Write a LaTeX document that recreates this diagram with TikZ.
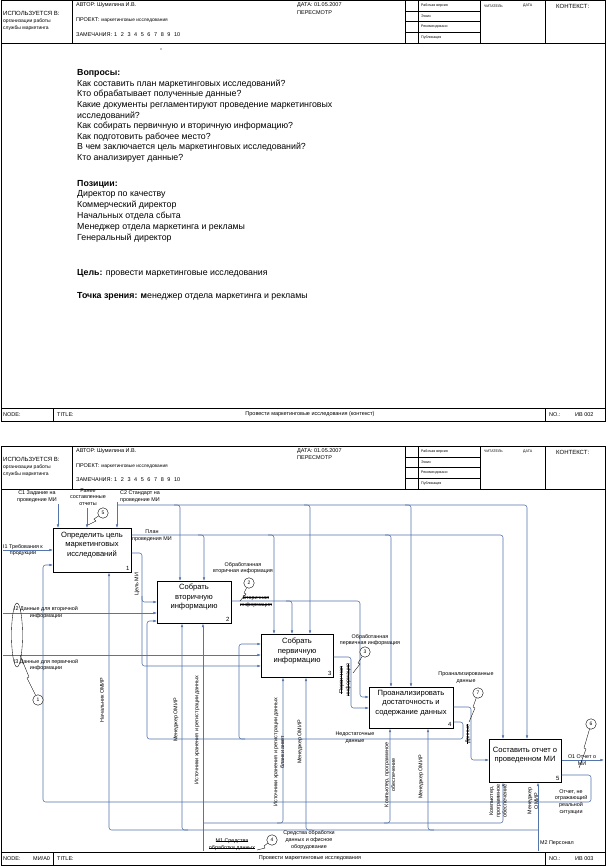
\documentclass[tikz,border=0pt]{standalone}
\usepackage{fontspec}
\setmainfont{Liberation Sans}
\usetikzlibrary{arrows.meta}
\definecolor{wl}{RGB}{84,116,172}
\newcommand\fsz[2]{\fontsize{#1}{#2}\selectfont}
\newsavebox\strkbox
\newcommand\strk[1]{\sbox\strkbox{#1}\rlap{\rule[0.3em]{\wd\strkbox}{0.35pt}}\usebox\strkbox}
\tikzset{
  frm/.style={draw=black, line width=0.5pt},
  hd/.style={anchor=west, inner sep=0pt, font=\fsz{5.5}{6.5}},
  hs/.style={anchor=west, inner sep=0pt, font=\fsz{3.6}{4}},
  bx/.style={draw=black, line width=0.6pt, anchor=north west, inner sep=0pt},
  bt/.style={align=center, font=\fsz{7.6}{9.2}, inner sep=0pt},
  bn/.style={anchor=south east, font=\fsz{6}{6}, inner sep=2pt},
  lb/.style={align=center, font=\fsz{5.4}{6.8}, inner sep=0pt},
  lbr/.style={lb, rotate=90},
  wire/.style={draw=wl, line width=0.55pt, rounded corners=2.5pt},
  warr/.style={wire, -{Latex[length=3.6pt,width=2.6pt]}},
  cl/.style={circle, draw=black, line width=0.4pt, minimum size=10.5pt, inner sep=0pt, font=\fsz{5}{5}, fill=white},
  sq/.style={draw=black, line width=0.35pt},
  pt/.style={anchor=west, inner sep=0pt, font=\fsz{8.8}{10.6}, text height=6.6pt, text depth=1.9pt},
}
\newcommand\remarks{ЗАМЕЧАНИЯ:\hspace{2pt}1\hspace{3.6pt}2\hspace{3.6pt}3\hspace{3.6pt}4\hspace{3.6pt}5\hspace{3.6pt}6\hspace{3.6pt}7\hspace{3.6pt}8\hspace{3.6pt}9\hspace{3.6pt}10}
\newcommand\formhead[1]{%
  \draw[frm] (72,0) -- (72,43) (405,0) -- (405,43) (418,0) -- (418,43)
             (480,0) -- (480,43) (545,0) -- (545,43) (1,43) -- (605,43);
  \draw[frm] (405,11) -- (480,11) (405,21) -- (480,21) (405,32) -- (480,32);
  \node[hd, font=\fsz{6}{7}] (#1u) at (3,13) {ИСПОЛЬЗУЕТСЯ В:};
  \node[hd, font=\fsz{5}{6}] (#1o) at (3,21) {организации работы};
  \node[hd, font=\fsz{5}{6}] (#1s) at (3,28) {службы маркетинга};
  \node[hd] (#1a) at (76,5) {АВТОР: Шумилина И.В.};
  \node[hd] (#1p) at (76,20) {ПРОЕКТ: {\fsz{4.8}{5}маркетинговые исследования}};
  \node[hd] (#1z) at (76,34) {\remarks};
  \node[hd] (#1d) at (297,5) {ДАТА: 01.05.2007};
  \node[hd] (#1r) at (297,12) {ПЕРЕСМОТР};
  \node[hs] (#1w) at (421,5.5) {Рабочая версия};
  \node[hs] (#1e) at (421,16) {Эскиз};
  \node[hs] (#1k) at (421,26.5) {Рекомендовано};
  \node[hs] (#1b) at (421,37.5) {Публикация};
  \node[hs] (#1c) at (484,5.5) {ЧИТАТЕЛЬ};
  \node[hs] (#1t) at (523,5.5) {ДАТА};
  \node[hd, font=\fsz{6}{7}] (#1x) at (556,6) {КОНТЕКСТ:};
}
\newcommand\formfoot[4]{%
  \draw[frm] (1,0) -- (605,0) (53,0) -- (53,13) (545,0) -- (545,13);
  \node[hd] (#1n) at (3,6.5) {NODE:};
  \node[hd] (#1m) at (33,6.5) {#2};
  \node[hd] (#1t) at (57,6.5) {TITLE:};
  \node[hd, anchor=center] (#1h) at (310,6.5) {#3};
  \node[hd] (#1q) at (549,6.5) {NO.:};
  \node[hd] (#1v) at (575,6.5) {#4};
}
\begin{document}
\begin{tikzpicture}[x=1pt,y=-1pt]
\useasboundingbox (0,0) rectangle (606,866);
\fill[white] (0,0) rectangle (606,866);
% ================= page 1
\draw[frm] (1,0.5) rectangle (605,421);
\begin{scope}[shift={(0,0.5)}]\formhead{ha}\end{scope}
\begin{scope}[shift={(0,408)}]\formfoot{fa}{}{Провести маркетинговые исследования (контекст)}{ИВ 002}\end{scope}
\fill (161,49) circle (0.7);
\node[pt, font=\fsz{8.8}{10.6}\bfseries] (qh) at (77,73) {Вопросы:};
\foreach \t [count=\i from 0] in {Как составить план маркетинговых исследований?,
  Кто обрабатывает полученные данные?,
  Какие документы регламентируют проведение маркетинговых,
  исследований?,
  Как собирать первичную и вторичную информацию?,
  Как подготовить рабочее место?,
  В чем заключается цель маркетинговых исследований?,
  Кто анализирует данные?}
  \node[pt, name=q\i] at (77,{84+\i*10.57}) {\t};
\node[pt, font=\fsz{8.8}{10.6}\bfseries] (ph) at (77,184) {Позиции:};
\foreach \t [count=\i from 0] in {Директор по качеству, Коммерческий директор,
  Начальных отдела сбыта, Менеджер отдела маркетинга и рекламы, Генеральный директор}
  \node[pt, name=p\i] at (77,{194.5+\i*10.8}) {\t};
\node[pt] (goal) at (77,273) {\textbf{Цель:} провести маркетинговые исследования};
\node[pt] (view) at (77,296) {\textbf{Точка зрения: м}енеджер отдела маркетинга и рекламы};
% ================= page 2
\draw[frm] (1,446) rectangle (605,865);
\begin{scope}[shift={(0,446)}]\formhead{hb}\end{scope}
\begin{scope}[shift={(0,852)}]\formfoot{fb}{МИ/А0}{Провести маркетинговые исследования}{ИВ 003}\end{scope}
% boxes
\node[bx, minimum width=78pt, minimum height=44pt] (b1) at (53,528) {};
\node[bx, minimum width=74pt, minimum height=42pt] (b2) at (157,581) {};
\node[bx, minimum width=72pt, minimum height=43pt] (b3) at (261,634) {};
\node[bx, minimum width=84pt, minimum height=41pt] (b4) at (369,687) {};
\node[bx, minimum width=72pt, minimum height=43pt] (b5) at (489,739) {};
\node[bt] (t1) at (92,545) {Определить цель\\маркетинговых\\исследований};
\node[bt] (t2) at (194,597) {Собрать\\вторичную\\информацию};
\node[bt] (t3) at (297,651) {Собрать\\первичную\\информацию};
\node[bt] (t4) at (411,703) {Проанализировать\\достаточность и\\содержание данных};
\node[bt] (t5) at (525,755) {Составить отчет о\\проведенном МИ};
\node[bn] (n1) at (b1.south east) {1};
\node[bn] (n2) at (b2.south east) {2};
\node[bn] (n3) at (b3.south east) {3};
\node[bn] (n4) at (b4.south east) {4};
\node[bn] (n5) at (b5.south east) {5};
% controls
\draw[warr] (58,504) -- (58,504 |- b1.north);
\draw[warr] (87,508) -- (87,508 |- b1.north);
\draw[warr] (117,502) -- (117,502 |- b1.north);
\draw[warr] (117,505) -- (527,505) -- (527,505 |- b5.north);
\draw[warr] (174,505) -- (180,505) -- (180,505 |- b2.north);
\draw[warr] (304,505) -- (310,505) -- (310,505 |- b3.north);
\draw[warr] (405,505) -- (411,505) -- (411,505 |- b4.north);
% plan
\draw[warr] (b1.east |- 0,535) -- (503,535) -- (503,535 |- b5.north);
\draw[warr] (198,535) -- (204,535) -- (204,535 |- b2.north);
\draw[warr] (268,535) -- (274,535) -- (274,535 |- b3.north);
\draw[warr] (385,535) -- (391,535) -- (391,535 |- b4.north);
% goal
\draw[warr] (b1.east |- 0,553) -- (142,553) -- (142,602) -- (b2.west |- 0,602);
\draw[warr] (142,596) -- (142,666) -- (b3.west |- 0,666);
% inputs
\draw[warr] (3,550) -- (b1.west |- 0,550);
\draw[warr] (3,613) -- (b2.west |- 0,613);
\draw[warr] (3,655) -- (b3.west |- 0,655);
% report feedback
\draw[warr] (b5.east |- 0,775) -- (591,775) -- (591,802) -- (43,802) -- (43,565) -- (b1.west |- 0,565);
% box 2 output
\draw[warr] (b2.east |- 0,601) -- (360,601) -- (360,697) -- (b4.west |- 0,697);
\draw[warr] (286,601) -- (292,601) -- (292,601 |- b3.north);
% box 3 output
\draw[warr] (b3.east |- 0,657) -- (351,657) -- (351,708) -- (b4.west |- 0,708);
% box 4 outputs
\draw[warr] (b4.east |- 0,707) -- (471,707) -- (471,760) -- (b5.west |- 0,760);
\draw[warr] (b4.east |- 0,722) -- (463,722) -- (463,739) -- (147,739) -- (147,621) -- (b2.west |- 0,621);
\draw[warr] (245,739) -- (239,739) -- (239,644) -- (b3.west |- 0,644);
% box 5 output
\draw[warr] (b5.east |- 0,760) -- (604,760);
% personnel
\draw[warr] (538,851) -- (538,851 |- b5.south);
\draw[warr] (538,830) -- (109,830) -- (109,830 |- b1.south);
\draw[warr] (188,830) -- (182,830) -- (182,830 |- b2.south);
\draw[warr] (312,830) -- (306,830) -- (306,830 |- b3.south);
\draw[warr] (434,830) -- (428,830) -- (428,830 |- b4.south);
% tools
\draw[warr] (203,851) -- (203,851 |- b2.south);
\draw[warr] (203,823) -- (503,823) -- (503,823 |- b5.south);
\draw[warr] (277,823) -- (283,823) -- (283,823 |- b3.south);
\draw[warr] (384,823) -- (390,823) -- (390,823 |- b4.south);
% labels
\node[lb] (lc1) at (37,497) {C1 Задание на\\проведение МИ};
\node[lb] (lre) at (88,497) {Ранее\\составленные\\отчеты};
\node[lb] (lc2) at (140,497) {C2 Стандарт на\\проведение МИ};
\node[lb] (lpl) at (152,535.5) {План\\проведения МИ};
\node[lb] (li1) at (23,550) {I1 Требования к\\продукции};
\node[lb] (li2) at (46,612.5) {I2 Данные для вторичной\\информации};
\node[lb] (li3) at (46,665) {I3 Данные для первичной\\информации};
\node[lbr] (lgo) at (137,584) {Цель МИ};
\node[lb] (lo2) at (243,568) {Обработанная\\вторичная информация};
\node[lb] (ls2) at (256,601.5) {\strk{Вторичная}\\\strk{информация}};
\node[lb] (lo3) at (370,640) {Обработанная\\первичная информация};
\node[lbr] (ls3) at (345,680) {\strk{Первичная}\\\strk{информация}};
\node[lb] (lo4) at (466,678) {Проанализированные\\данные};
\node[lbr] (ls4) at (468,734) {\strk{Данные}};
\node[lb] (lnd) at (355,738) {Недостаточные\\данные};
\node[lb] (lo5) at (582,760) {О1 Отчет о\\МИ};
\node[lb] (lfb) at (571,802) {Отчет, не\\отражающий\\реальной\\ситуации};
\node[lb] (lm2) at (557,843) {M2 Персонал};
\node[lb] (lm1) at (309,840) {Средства обработки\\данных и офисное\\оборудование};
\node[lb] (ls1) at (232,845) {\strk{M1 Средства}\\\strk{обработки данных}};
\node[lbr] (lr1) at (102,700) {Начальник ОМИР};
\node[lbr] (lr2) at (176,720) {Менеджер ОМИР};
\node[lbr] (lr3) at (197,730) {Источники хранения и регистрации данных};
\node[lbr] (lr4) at (279,752) {Источники хранения и регистрации данных\\бланки анкет};
\node[lbr] (lr5) at (300,742) {Менеджер ОМИР};
\node[lbr] (lr6) at (390,775) {Компьютер, программное\\обеспечение};
\node[lbr] (lr7) at (421,777) {Менеджер ОМИР};
\node[lbr] (lr8) at (498,801) {Компьютер,\\программное\\обеспечение};
\node[lbr] (lr9) at (533,801) {Менеджер\\ОМИР};
% callouts
\node[cl] (c5) at (103,513) {5};
\draw[sq] (c5) -- (94,519) -- (96,521) -- (88,525);
\node[cl] (c2) at (249,583) {2};
\draw[sq] (c2) -- (244,593) -- (246,594) -- (240,601);
\node[cl] (c3) at (365,652) {3};
\draw[sq] (c3) -- (358,663) -- (360,664) -- (353,673);
\node[cl] (c7) at (478,693) {7};
\draw[sq] (c7) -- (473,707) -- (475,708) -- (469,722);
\node[cl] (c6) at (591,724) {6};
\draw[sq] (c6) -- (584,748) -- (586,749) -- (579,768);
\node[cl] (c4) at (272,840) {4};
\draw[sq] (c4) -- (264,846) -- (265,848) -- (257,850);
\node[cl] (c1) at (38,700) {1};
\draw[sq] (17,635) ellipse (5.5 and 32);
\draw[sq] (c1) -- (27,678) -- (29,677) -- (20,655);
\end{tikzpicture}
\end{document}
